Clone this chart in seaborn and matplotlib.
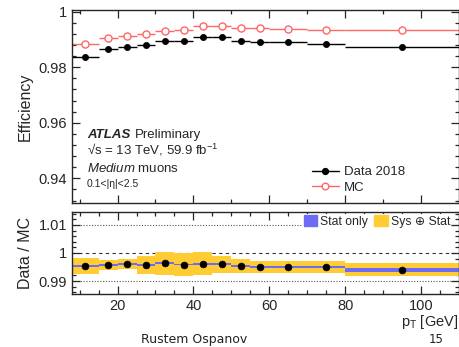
import numpy as np
import seaborn as sns
import matplotlib.pyplot as plt
from matplotlib.patches import Patch
from matplotlib.lines import Line2D
from matplotlib.ticker import MultipleLocator

# pT bin edges [GeV]
edges = [8, 15, 20, 25, 30, 35, 40, 45, 50, 55, 60, 70, 80, 110]

# efficiencies
eff_data = [0.9837, 0.9864, 0.9872, 0.9879, 0.9896, 0.9896, 0.9907,
            0.9907, 0.9895, 0.9889, 0.9890, 0.9884, 0.9873]
eff_mc = [0.9885, 0.9906, 0.9913, 0.9919, 0.9930, 0.9935, 0.9947,
          0.9947, 0.9942, 0.9940, 0.9939, 0.9935, 0.9934]

# scale factors and their uncertainties
ratio = [0.9953, 0.9957, 0.9960, 0.9958, 0.9964, 0.9959, 0.9961,
         0.9960, 0.9953, 0.9950, 0.9951, 0.9950, 0.9941]
err_stat = [0.0004, 0.0003, 0.0003, 0.0003, 0.0003, 0.0003, 0.0003,
            0.0003, 0.0004, 0.0004, 0.0004, 0.0005, 0.0007]
err_sys = [0.0028, 0.0017, 0.0017, 0.0031, 0.0041, 0.0041, 0.0041,
           0.0031, 0.0024, 0.0022, 0.0021, 0.0022, 0.0022]

sns.set_style("ticks")
plt.rcParams['font.family'] = ['Liberation Sans', 'DejaVu Sans']
plt.rcParams['mathtext.fontset'] = 'custom'
plt.rcParams['mathtext.rm'] = 'Liberation Sans'
plt.rcParams['mathtext.it'] = 'Liberation Sans:italic'

e = np.array(edges, dtype=float)
centers = 0.5 * (e[1:] + e[:-1])
halfw = 0.5 * (e[1:] - e[:-1])
r = np.array(ratio)

fig = plt.figure(figsize=(4.6, 3.47), dpi=100)
W, H = 460, 347
ax1 = fig.add_axes([72 / W, 1 - 203 / H, 387 / W, 193 / H])
ax2 = fig.add_axes([72 / W, 1 - 294 / H, 387 / W, 82 / H])

red = '#ff6666'
blue = '#6b6bf5'
yellow = '#ffcc33'

# ---- upper panel
ax1.errorbar(centers, eff_mc, xerr=halfw, fmt='none', ecolor=red, elinewidth=1.0)
ax1.errorbar(centers, eff_data, xerr=halfw, fmt='none', ecolor='black', elinewidth=1.0)
sns.scatterplot(x=centers, y=eff_mc, ax=ax1, marker='o', s=26,
                facecolor='white', edgecolor=red, linewidth=1.0, zorder=4)
sns.scatterplot(x=centers, y=eff_data, ax=ax1, marker='o', s=20,
                color='black', edgecolor='black', linewidth=0.5, zorder=5)

ax1.set_xlim(8, 110)
ax1.set_ylim(0.9311, 1.0006)
ax1.set_yticks([0.94, 0.96, 0.98, 1.0])
ax1.set_yticklabels(['0.94', '0.96', '0.98', '1'])
ax1.yaxis.set_minor_locator(MultipleLocator(0.004))
ax1.xaxis.set_major_locator(MultipleLocator(20))
ax1.xaxis.set_minor_locator(MultipleLocator(10))
ax1.set_xticklabels([])
ax1.set_ylabel('Efficiency', fontsize=11.5, labelpad=4)

handles = [Line2D([], [], color='black', marker='o', ms=4.2, lw=1.0),
           Line2D([], [], color=red, marker='o', ms=4.8, lw=1.0,
                  markerfacecolor='white', markeredgecolor=red)]
ax1.legend(handles, ['Data 2018', 'MC'], loc='lower left',
           bbox_to_anchor=((303 - 72) / 387, 0.0), frameon=False,
           fontsize=9.5, handlelength=2.0, handletextpad=0.4,
           labelspacing=0.25, borderaxespad=0.3)

ax1.text(0.039, 0.339, 'ATLAS', transform=ax1.transAxes, fontsize=9.5,
         va='baseline', fontweight='bold', fontstyle='italic')
ax1.text(0.163, 0.339, 'Preliminary', transform=ax1.transAxes,
         fontsize=9.5, va='baseline')
ax1.text(0.039, 0.249, '\u221as = 13 TeV, 59.9 fb$^{-1}$',
         transform=ax1.transAxes, fontsize=9.5, va='baseline')
ax1.text(0.039, 0.161, r'$\mathit{Medium}$ muons',
         transform=ax1.transAxes, fontsize=9.5, va='baseline')
ax1.text(0.039, 0.083, '0.1<|\u03b7|<2.5',
         transform=ax1.transAxes, fontsize=7.5, va='baseline')

# ---- lower panel
ax2.fill_between(e, np.append(r - err_sys, r[-1] - err_sys[-1]),
                 np.append(r + err_sys, r[-1] + err_sys[-1]),
                 step='post', color=yellow, lw=0, zorder=1)
ax2.fill_between(e, np.append(r - err_stat, r[-1] - err_stat[-1]),
                 np.append(r + err_stat, r[-1] + err_stat[-1]),
                 step='post', color=blue, lw=0, zorder=2)
sns.scatterplot(x=centers, y=ratio, ax=ax2, marker='o', s=24,
                color='black', edgecolor='black', linewidth=0.5, zorder=5)

ax2.axhline(1.0, color='#333333', lw=0.8, ls=(0, (3, 3)), zorder=0)
ax2.axhline(1.01, color='#555555', lw=0.8, ls=(0, (1, 1.5)), zorder=0)
ax2.axhline(0.99, color='#555555', lw=0.8, ls=(0, (1, 1.5)), zorder=0)

ax2.set_xlim(8, 110)
ax2.set_ylim(0.9854, 1.0146)
ax2.set_yticks([0.99, 1.0, 1.01])
ax2.set_yticklabels(['0.99', '1', '1.01'])
ax2.yaxis.set_minor_locator(MultipleLocator(0.002))
ax2.xaxis.set_major_locator(MultipleLocator(20))
ax2.xaxis.set_minor_locator(MultipleLocator(5))
ax2.set_ylabel('Data / MC', fontsize=11.5, labelpad=4)

leg2 = ax2.legend([Patch(color=blue), Patch(color=yellow)],
                  ['Stat only', 'Sys \u2295 Stat'], loc='upper right',
                  ncol=2, fontsize=8.8, frameon=True, fancybox=False,
                  handlelength=1.1, handleheight=1.0, handletextpad=0.25,
                  columnspacing=0.5, borderpad=0.1, borderaxespad=0.15,
                  bbox_to_anchor=(0.985, 1.0))
leg2.get_frame().set_edgecolor('none')
leg2.get_frame().set_alpha(1.0)

for ax in (ax1, ax2):
    ax.tick_params(which='both', direction='in', top=True, right=True,
                   labelsize=10.5, width=0.9)
    ax.tick_params(which='major', length=6)
    ax.tick_params(which='minor', length=3)
    for s in ax.spines.values():
        s.set_linewidth(1.0)

fig.text(458 / W, 1 - 326 / H, r'p$_{\mathrm{T}}$ [GeV]', ha='right',
         va='baseline', fontsize=10.5)
fig.text(194 / W, 1 - 343 / H, 'Rustem Ospanov', ha='center', va='baseline',
         fontsize=9, family='DejaVu Sans', color='#222222')
fig.text(436 / W, 1 - 343 / H, '15', ha='center', va='baseline',
         fontsize=8.5, family='DejaVu Sans', color='#222222')

fig.savefig('out.png', dpi=100)
